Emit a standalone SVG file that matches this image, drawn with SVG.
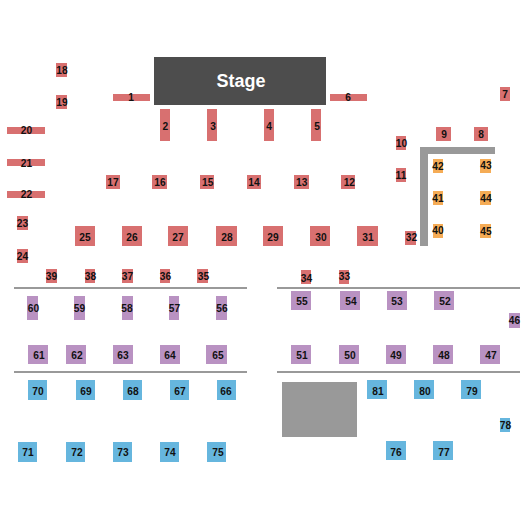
<svg xmlns="http://www.w3.org/2000/svg" width="525" height="525" viewBox="0 0 525 525">
<style>
text{font-family:"Liberation Sans",Arial,sans-serif;font-weight:700;font-size:10.2px;text-anchor:middle;fill:#111}
.r{fill:#d87070}.p{fill:#b992c2}.b{fill:#66b6de}.o{fill:#f5ac56}.g{fill:#999}
.l{stroke:#999;stroke-width:2;fill:none}
</style>
<rect width="525" height="525" fill="#fff"/>
<g id="stage"><rect x="154" y="57" width="172" height="48" fill="#4d4d4d"/><text x="241" y="86.500" style="font-size:18px;fill:#fff">Stage</text></g>
<g id="structures">
<path class="g" d="M420 147H495V154H428V246H420Z"/>
<rect class="g" x="282" y="382" width="75" height="55"/>
<path class="l" d="M14 288H247M277 288H520M14 372H247M277 372H520"/>
</g>
<g id="s1"><rect class="r" x="113" y="94" width="37" height="7"/><text x="131" y="100.500">1</text></g>
<g id="s2"><rect class="r" x="160" y="109" width="10" height="32"/><text x="165.300" y="130.200">2</text></g>
<g id="s3"><rect class="r" x="207" y="109" width="10" height="32"/><text x="213" y="130.200">3</text></g>
<g id="s4"><rect class="r" x="264" y="109" width="10" height="32"/><text x="269" y="130.200">4</text></g>
<g id="s5"><rect class="r" x="311" y="109" width="10" height="32"/><text x="317" y="130.200">5</text></g>
<g id="s6"><rect class="r" x="330" y="94" width="37" height="7"/><text x="348" y="100.500">6</text></g>
<g id="s7"><rect class="r" x="500" y="87" width="10" height="14"/><text x="505" y="97.500">7</text></g>
<g id="s8"><rect class="r" x="474" y="127" width="14" height="14"/><text x="481" y="138.200">8</text></g>
<g id="s9"><rect class="r" x="436" y="127" width="15" height="14"/><text x="444" y="138.200">9</text></g>
<g id="s10"><rect class="r" x="396" y="136" width="10" height="14"/><text x="401.500" y="146.500">10</text></g>
<g id="s11"><rect class="r" x="396" y="168" width="10" height="14"/><text x="401" y="178.700">11</text></g>
<g id="s12"><rect class="r" x="341" y="175" width="14" height="14"/><text x="349.300" y="186.200">12</text></g>
<g id="s13"><rect class="r" x="294" y="175" width="15" height="14"/><text x="301.700" y="186.200">13</text></g>
<g id="s14"><rect class="r" x="247" y="175" width="14" height="14"/><text x="254" y="186.200">14</text></g>
<g id="s15"><rect class="r" x="200" y="175" width="14" height="14"/><text x="207.700" y="186.200">15</text></g>
<g id="s16"><rect class="r" x="152" y="175" width="15" height="14"/><text x="160" y="186.200">16</text></g>
<g id="s17"><rect class="r" x="106" y="175" width="14" height="14"/><text x="113" y="186.200">17</text></g>
<g id="s18"><rect class="r" x="56" y="63" width="11" height="14"/><text x="62" y="74.400">18</text></g>
<g id="s19"><rect class="r" x="56" y="95" width="11" height="14"/><text x="62" y="106.400">19</text></g>
<g id="s20"><rect class="r" x="7" y="127" width="38" height="7"/><text x="26.500" y="134.200">20</text></g>
<g id="s21"><rect class="r" x="7" y="159" width="38" height="7"/><text x="26.500" y="166.700">21</text></g>
<g id="s22"><rect class="r" x="7" y="191" width="38" height="7"/><text x="26.500" y="198.200">22</text></g>
<g id="s23"><rect class="r" x="17" y="216" width="11" height="14"/><text x="22.500" y="227.200">23</text></g>
<g id="s24"><rect class="r" x="17" y="249" width="11" height="14"/><text x="22.500" y="260.400">24</text></g>
<g id="s25"><rect class="r" x="75" y="226" width="20" height="20"/><text x="85" y="241.400">25</text></g>
<g id="s26"><rect class="r" x="122" y="226" width="20" height="20"/><text x="132" y="241.400">26</text></g>
<g id="s27"><rect class="r" x="168" y="226" width="20" height="20"/><text x="178" y="241.400">27</text></g>
<g id="s28"><rect class="r" x="216" y="226" width="21" height="20"/><text x="227" y="241.400">28</text></g>
<g id="s29"><rect class="r" x="263" y="226" width="20" height="20"/><text x="273" y="241.400">29</text></g>
<g id="s30"><rect class="r" x="310" y="226" width="20" height="20"/><text x="321" y="241.400">30</text></g>
<g id="s31"><rect class="r" x="357" y="226" width="21" height="20"/><text x="368" y="241.400">31</text></g>
<g id="s32"><rect class="r" x="405" y="231" width="11" height="14"/><text x="411.500" y="241.400">32</text></g>
<g id="s33"><rect class="r" x="339" y="270" width="10" height="14"/><text x="344.500" y="280.400">33</text></g>
<g id="s34"><rect class="r" x="301" y="270" width="10" height="14"/><text x="306.500" y="281.700">34</text></g>
<g id="s35"><rect class="r" x="197" y="269" width="11" height="14"/><text x="203.500" y="280.400">35</text></g>
<g id="s36"><rect class="r" x="160" y="269" width="10" height="14"/><text x="165.500" y="280.400">36</text></g>
<g id="s37"><rect class="r" x="122" y="269" width="11" height="14"/><text x="127.500" y="280.400">37</text></g>
<g id="s38"><rect class="r" x="85" y="269" width="10" height="14"/><text x="90.500" y="280.400">38</text></g>
<g id="s39"><rect class="r" x="46" y="269" width="11" height="14"/><text x="51.500" y="280.400">39</text></g>
<g id="s40"><rect class="o" x="433" y="224" width="10" height="14"/><text x="438" y="234.400">40</text></g>
<g id="s41"><rect class="o" x="433" y="191" width="10" height="14"/><text x="438" y="201.900">41</text></g>
<g id="s42"><rect class="o" x="433" y="159" width="10" height="14"/><text x="438" y="170.400">42</text></g>
<g id="s43"><rect class="o" x="480" y="159" width="11" height="14"/><text x="486" y="169.400">43</text></g>
<g id="s44"><rect class="o" x="480" y="191" width="11" height="14"/><text x="486" y="201.900">44</text></g>
<g id="s45"><rect class="o" x="480" y="224" width="11" height="14"/><text x="486" y="235.400">45</text></g>
<g id="s46"><rect class="p" x="509" y="313" width="11" height="15"/><text x="514.500" y="324.400">46</text></g>
<g id="s47"><rect class="p" x="480" y="345" width="20" height="19"/><text x="491" y="359.400">47</text></g>
<g id="s48"><rect class="p" x="433" y="345" width="20" height="19"/><text x="444" y="359.400">48</text></g>
<g id="s49"><rect class="p" x="386" y="345" width="20" height="19"/><text x="396" y="359.400">49</text></g>
<g id="s50"><rect class="p" x="339" y="345" width="20" height="19"/><text x="350" y="359.400">50</text></g>
<g id="s51"><rect class="p" x="291" y="345" width="20" height="19"/><text x="302" y="359.400">51</text></g>
<g id="s52"><rect class="p" x="434" y="291" width="20" height="19"/><text x="445" y="305.400">52</text></g>
<g id="s53"><rect class="p" x="387" y="291" width="20" height="19"/><text x="397" y="305.400">53</text></g>
<g id="s54"><rect class="p" x="340" y="291" width="20" height="19"/><text x="351" y="305.400">54</text></g>
<g id="s55"><rect class="p" x="291" y="291" width="20" height="19"/><text x="302" y="305.400">55</text></g>
<g id="s56"><rect class="p" x="216" y="296" width="11" height="24"/><text x="222" y="311.700">56</text></g>
<g id="s57"><rect class="p" x="169" y="296" width="10" height="24"/><text x="174.500" y="311.700">57</text></g>
<g id="s58"><rect class="p" x="122" y="296" width="11" height="24"/><text x="127" y="311.700">58</text></g>
<g id="s59"><rect class="p" x="74" y="296" width="11" height="24"/><text x="79.500" y="311.700">59</text></g>
<g id="s60"><rect class="p" x="27" y="296" width="11" height="24"/><text x="33.500" y="311.700">60</text></g>
<g id="s61"><rect class="p" x="28" y="345" width="20" height="19"/><text x="39" y="359.400">61</text></g>
<g id="s62"><rect class="p" x="66" y="345" width="20" height="19"/><text x="77" y="359.400">62</text></g>
<g id="s63"><rect class="p" x="113" y="345" width="20" height="19"/><text x="123" y="359.400">63</text></g>
<g id="s64"><rect class="p" x="160" y="345" width="20" height="19"/><text x="170" y="359.400">64</text></g>
<g id="s65"><rect class="p" x="206" y="345" width="21" height="19"/><text x="218" y="359.400">65</text></g>
<g id="s66"><rect class="b" x="217" y="380" width="19" height="20"/><text x="226" y="394.900">66</text></g>
<g id="s67"><rect class="b" x="170" y="380" width="19" height="20"/><text x="180" y="394.900">67</text></g>
<g id="s68"><rect class="b" x="123" y="380" width="19" height="20"/><text x="133" y="394.900">68</text></g>
<g id="s69"><rect class="b" x="76" y="380" width="19" height="20"/><text x="86" y="394.900">69</text></g>
<g id="s70"><rect class="b" x="28" y="380" width="19" height="20"/><text x="38" y="394.900">70</text></g>
<g id="s71"><rect class="b" x="18" y="442" width="19" height="20"/><text x="28" y="456.400">71</text></g>
<g id="s72"><rect class="b" x="66" y="442" width="19" height="20"/><text x="77" y="456.400">72</text></g>
<g id="s73"><rect class="b" x="113" y="442" width="19" height="20"/><text x="123" y="456.400">73</text></g>
<g id="s74"><rect class="b" x="160" y="442" width="19" height="20"/><text x="170" y="456.400">74</text></g>
<g id="s75"><rect class="b" x="207" y="442" width="19" height="20"/><text x="218" y="456.400">75</text></g>
<g id="s76"><rect class="b" x="386" y="441" width="20" height="19"/><text x="396" y="456.400">76</text></g>
<g id="s77"><rect class="b" x="433" y="441" width="20" height="19"/><text x="444" y="456.400">77</text></g>
<g id="s78"><rect class="b" x="500" y="418" width="10" height="14"/><text x="505.500" y="429.400">78</text></g>
<g id="s79"><rect class="b" x="461" y="380" width="20" height="19"/><text x="472" y="395.400">79</text></g>
<g id="s80"><rect class="b" x="414" y="380" width="20" height="19"/><text x="425" y="395.400">80</text></g>
<g id="s81"><rect class="b" x="367" y="380" width="20" height="19"/><text x="378" y="395.400">81</text></g>
</svg>
